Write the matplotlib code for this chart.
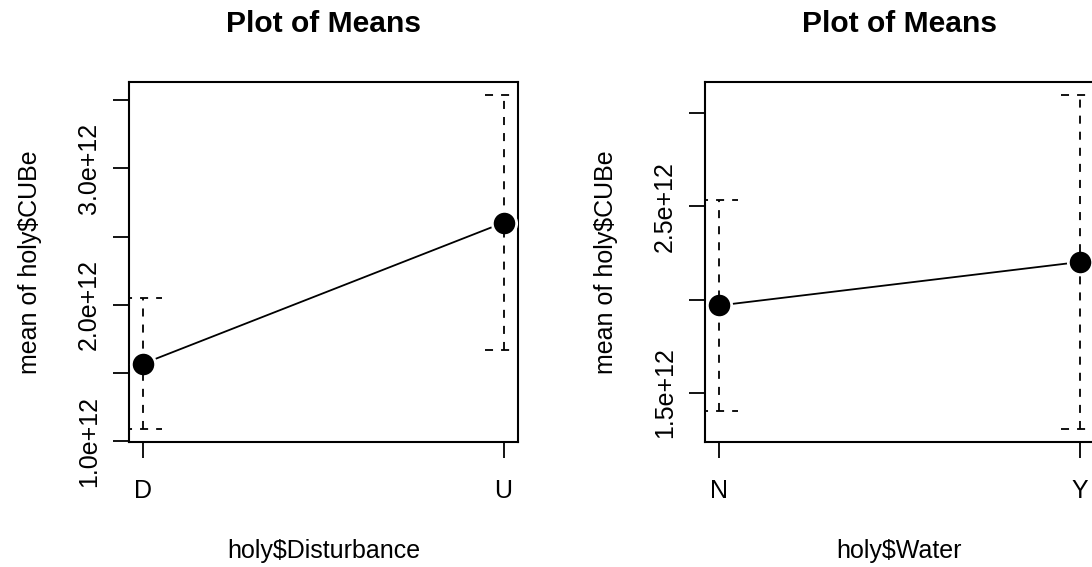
import matplotlib
matplotlib.use("Agg")
import matplotlib.pyplot as plt
import numpy as np

plt.rcParams['font.family'] = ['Liberation Sans', 'DejaVu Sans']

# ---- data ----
dist_levels = ['D', 'U']
dist_means = [1.570e12, 2.603e12]
dist_ci = [0.477e12, 0.933e12]
dist_yticks = [1.0e12, 1.5e12, 2.0e12, 2.5e12, 3.0e12, 3.5e12]
dist_yticklabels = ['1.0e+12', '', '2.0e+12', '', '3.0e+12', '']

water_levels = ['N', 'Y']
water_means = [1.969e12, 2.202e12]
water_ci = [0.567e12, 0.894e12]
water_yticks = [1.5e12, 2.0e12, 2.5e12, 3.0e12]
water_yticklabels = ['1.5e+12', '', '2.5e+12', '']

title_text = 'Plot of Means'
ylabel_text = 'mean of holy$CUBe'
dist_xlabel = 'holy$Disturbance'
water_xlabel = 'holy$Water'

W, H = 1092, 567
fig = plt.figure(figsize=(W / 100, H / 100), dpi=100)
ax1 = fig.add_axes([129 / W, 1 - 442 / H, 389 / W, 360 / H])
ax2 = fig.add_axes([705 / W, 1 - 442 / H, 389 / W, 360 / H])

FS = 18
LW = 1.3
DASH = (0, (4.45, 4.45))


def panel(ax, levels, means, ci, yticks, yticklabels, xlabel):
    means = np.asarray(means)
    ci = np.asarray(ci)
    x = np.arange(1, len(levels) + 1)
    lo = means - ci
    hi = means + ci
    ymin, ymax = lo.min(), hi.max()
    r = ymax - ymin
    ax.set_ylim(ymin - 0.04 * r, ymax + 0.04 * r)
    ax.set_xlim(x.min() - 0.04 * (x.max() - x.min()), x.max() + 0.04 * (x.max() - x.min()))

    # connecting line
    ax.plot(x, means, '-', color='black', lw=LW, zorder=2)
    # white gap around points (R type="b")
    ax.plot(x, means, 'o', color='white', ms=19.5, mew=0, zorder=3)
    # error bars (dashed), with dashed caps drawn left-end -> centre -> right-end
    xr = ax.get_xlim()
    half = 19 / 389 * (xr[1] - xr[0])
    for xi, l, h in zip(x, lo, hi):
        ax.plot([xi, xi], [l, h], color='black', lw=LW, linestyle=DASH, zorder=4)
        for yy in (l, h):
            ax.plot([xi - half, xi, xi + half], [yy, yy, yy], color='black', lw=LW,
                    linestyle=DASH, zorder=4)
    ax.plot(x, means, 'o', color='black', ms=15.5, mew=0, zorder=5)

    ax.set_xticks(x)
    ax.set_xticklabels(levels, fontsize=FS)
    ax.set_yticks(yticks)
    ax.set_yticklabels(yticklabels, fontsize=FS, rotation=90, va='center')
    ax.tick_params(axis='both', direction='out', length=11.3, width=LW, color='black')
    ax.tick_params(axis='x', pad=15)
    ax.tick_params(axis='y', pad=9)
    for s in ax.spines.values():
        s.set_linewidth(1.5)
    ax.text(0.5, 1.139, title_text, transform=ax.transAxes, ha='center', va='baseline',
            fontsize=21.6, fontweight='bold')
    ax.text(0.5, -0.322, xlabel, transform=ax.transAxes, ha='center', va='baseline', fontsize=FS)
    ax.text(-0.255, 0.5, ylabel_text, transform=ax.transAxes, ha='center', va='center',
            rotation=90, fontsize=FS)


panel(ax1, dist_levels, dist_means, dist_ci, dist_yticks, dist_yticklabels, dist_xlabel)
panel(ax2, water_levels, water_means, water_ci, water_yticks, water_yticklabels, water_xlabel)

fig.savefig('out.png', dpi=100)
